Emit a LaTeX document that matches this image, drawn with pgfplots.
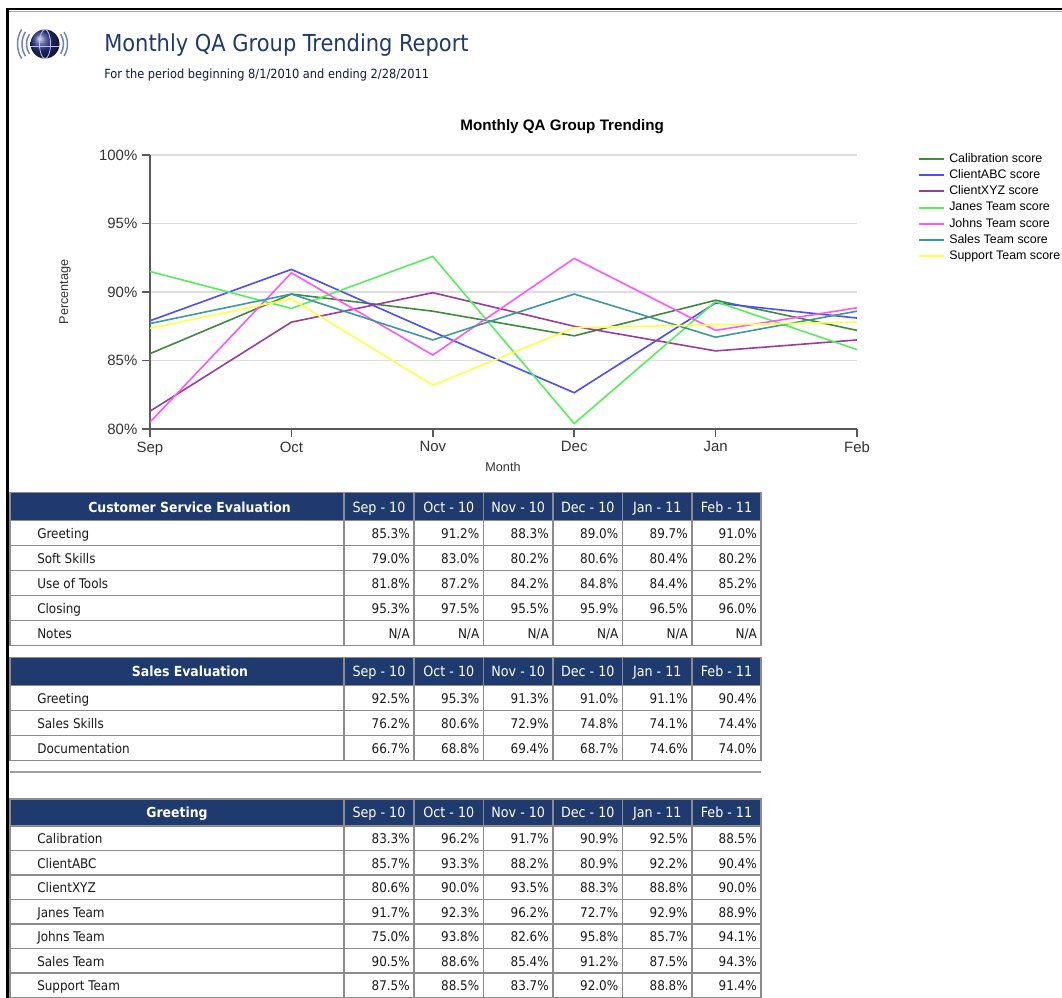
\documentclass[border=0pt]{standalone}
\usepackage{pgfplots}
\usepackage{pgfplotstable}
\pgfplotsset{compat=1.18}
\usepackage{fontspec}
\setmainfont{Liberation Sans}
\newfontfamily\arial{Liberation Sans}
\newfontfamily\tahoma{DejaVu Sans Condensed}

\definecolor{hdr}{HTML}{1F3A6F}
\definecolor{titleblue}{HTML}{1F3A6F}
\definecolor{cellgray}{HTML}{8C8C8C}
\definecolor{axisgray}{HTML}{5A5A5A}
\definecolor{gridgray}{HTML}{DDDDDD}
\definecolor{ticklab}{HTML}{333333}
\definecolor{txt}{HTML}{1A1A1A}
\definecolor{cCal}{HTML}{3C8C3C}
\definecolor{cABC}{HTML}{4D4DFF}
\definecolor{cXYZ}{HTML}{9A3D9A}
\definecolor{cJanes}{HTML}{55F055}
\definecolor{cJohns}{HTML}{FF55FF}
\definecolor{cSales}{HTML}{3C9A9A}
\definecolor{cSupport}{HTML}{FFFF44}
\definecolor{logoblue}{HTML}{27337F}
\definecolor{logoarc}{HTML}{6F82B8}

\pgfplotstableread{
x Cal ABC XYZ Janes Johns Sales Support
0 85.5 87.9 81.3 91.5 80.5 87.7 87.35
1 89.85 91.65 87.8 88.8 91.4 89.85 89.5
2 88.6 87.1 89.95 92.6 85.4 86.5 83.2
3 86.8 82.65 87.5 80.4 92.45 89.85 87.4
4 89.4 89.2 85.7 89.3 87.2 86.7 87.6
5 87.2 88.1 86.5 85.8 88.85 88.6 87.8
}\chartdata

\tikzset{
  cell/.style={draw=cellgray, line width=0.9pt},
  tabfont/.style={font=\tahoma\fontsize{10}{12}\selectfont, text=txt, inner sep=0pt, text height=7pt, text depth=2pt},
  tabhead/.style={font=\tahoma\fontsize{10.6}{12}\selectfont, text=white, inner sep=0pt, text height=7pt, text depth=2pt},
  tabheadb/.style={font=\tahoma\bfseries\fontsize{10.4}{12}\selectfont, text=white, inner sep=0pt, text height=7pt, text depth=2pt},
}

\newcommand\thead[4]{%
  \fill[hdr] (10,#1) rectangle (761,#2);
  \draw[cell] (10,#1) rectangle (761,#2);
  \foreach \xx in {344,414,483.5,553,622.5,692} \draw[cell] (\xx,#1)--(\xx,#2);
  \node[tabheadb] at (#4,{(#1+#2)/2+2}) {#3};
  \foreach \m [count=\i] in {Sep - 10,Oct - 10,Nov - 10,Dec - 10,Jan - 11,Feb - 11} {
    \pgfmathsetmacro\xc{{379,448.75,518.25,587.75,657.25,726.5}[\i-1]}
    \node[tabhead] at (\xc,{(#1+#2)/2+2}) {\m};
  }
}
\newcommand\trow[4]{%
  \draw[cell] (10,#1) rectangle (761,#2);
  \foreach \xx in {344,414,483.5,553,622.5,692} \draw[cell] (\xx,#1)--(\xx,#2);
  \node[tabfont, anchor=west] at (37,{(#1+#2)/2+2}) {#3};
  \foreach \v [count=\i] in {#4} {
    \pgfmathsetmacro\xr{{414,483.5,553,622.5,692,761}[\i-1]-4}
    \node[tabfont, anchor=east] at (\xr,{(#1+#2)/2+2}) {\v};
  }
}

\begin{document}
\begin{tikzpicture}[x=0.75pt,y=-0.75pt]
\useasboundingbox (0,0) rectangle (1062,997);
\clip (0,0) rectangle (1062,997);
\fill[white] (0,0) rectangle (1062,997);

% frame
\draw[black, line width=2.25pt] (7.5,9) -- (7.5,1000);
\draw[black, line width=1.6pt] (6,9) -- (1070,9);
\draw[gray!70, line width=0.8pt] (9,11.5) -- (1070,11.5);

% logo
\shade[ball color=logoblue] (45,44) circle (14.5);
\draw[white!75!blue, line width=0.6pt] (45,44) ellipse (5.5 and 14.5);
\draw[white!75!blue, line width=0.6pt] (30.5,46) -- (59.5,46);
\foreach \r in {18.5,23,27.5} \draw[logoarc, line width=1.1pt] ({45+\r*cos(148)},{44+\r*sin(148)}) arc[start angle=148, end angle=212, radius=\r];
\foreach \r in {18.5,22.5} \draw[logoarc, line width=1.1pt] ({45+\r*cos(-32)},{44+\r*sin(-32)}) arc[start angle=-32, end angle=32, radius=\r];

% header
\node[anchor=base west, inner sep=0pt, font=\tahoma\fontsize{17.5}{20}\selectfont, text=titleblue] at (104,51) {Monthly QA Group Trending Report};
\node[anchor=base west, inner sep=0pt, font=\tahoma\fontsize{9.5}{11}\selectfont, text=titleblue!50!black] at (104,78.5) {For the period beginning 8/1/2010 and ending 2/28/2011};

% chart
\coordinate (O) at (150,429);
\begin{axis}[
  at={(O)}, anchor=south west, scale only axis,
  width=530.25pt, height=205.5pt,
  xmin=0, xmax=5, ymin=80, ymax=100,
  axis x line*=bottom, axis y line*=left,
  axis line style={draw=axisgray, line width=1.5pt},
  xtick={0,...,5}, xticklabels={Sep,Oct,Nov,Dec,Jan,Feb},
  ytick={80,85,90,95,100},
  yticklabel={\pgfmathprintnumber{\tick}\%},
  /pgf/number format/assume math mode=true,
  ticklabel style={font=\arial\fontsize{11.2}{13}\selectfont, text=ticklab},
  tick align=outside, major tick length=6pt,
  tick style={draw=axisgray, line width=1.2pt},
  ymajorgrids, grid style={draw=gridgray, line width=0.8pt},
  xlabel={Month}, ylabel={Percentage},
  label style={font=\arial\fontsize{9.5}{11}\selectfont, text=ticklab},
  xlabel style={at={(0.4993,-0.1387)}, anchor=center},
  ylabel style={at={(-0.1202,0.5)}, anchor=center},
  title={Monthly QA Group Trending},
  title style={font=\arial\bfseries\fontsize{11.4}{13}\selectfont, at={(0.583,1.073)}, anchor=center},
  no marks,
  legend style={draw=none, fill=none, at={(1.0863,1.0094)}, anchor=north west,
    font=\arial\fontsize{9.3}{11}\selectfont, inner sep=0pt, row sep=3.2pt,
    nodes={inner sep=0pt, text height=7pt, text depth=2pt},
    /tikz/every odd column/.append style={column sep=3pt}},
  legend cell align=left,
  legend image code/.code={\draw[#1, line width=1.5pt] (0pt,0pt) -- (18.75pt,0pt);},
  every axis plot/.append style={line width=1.2pt},
]
\addplot[cCal] table[x=x,y=Cal]{\chartdata}; \addlegendentry{Calibration score}
\addplot[cABC] table[x=x,y=ABC]{\chartdata}; \addlegendentry{ClientABC score}
\addplot[cXYZ] table[x=x,y=XYZ]{\chartdata}; \addlegendentry{ClientXYZ score}
\addplot[cJanes] table[x=x,y=Janes]{\chartdata}; \addlegendentry{Janes Team score}
\addplot[cJohns] table[x=x,y=Johns]{\chartdata}; \addlegendentry{Johns Team score}
\addplot[cSales] table[x=x,y=Sales]{\chartdata}; \addlegendentry{Sales Team score}
\addplot[cSupport] table[x=x,y=Support]{\chartdata}; \addlegendentry{Support Team score}
\end{axis}

% table 1
\thead{492.7}{520.7}{Customer Service Evaluation}{189.5}
\trow{520.7}{545.5}{Greeting}{85.3\%,91.2\%,88.3\%,89.0\%,89.7\%,91.0\%}
\trow{545.5}{570.4}{Soft Skills}{79.0\%,83.0\%,80.2\%,80.6\%,80.4\%,80.2\%}
\trow{570.4}{595.5}{Use of Tools}{81.8\%,87.2\%,84.2\%,84.8\%,84.4\%,85.2\%}
\trow{595.5}{620.7}{Closing}{95.3\%,97.5\%,95.5\%,95.9\%,96.5\%,96.0\%}
\trow{620.7}{645.3}{Notes}{N/A,N/A,N/A,N/A,N/A,N/A}

% table 2
\thead{657.3}{685.7}{Sales Evaluation}{190}
\trow{685.7}{710.7}{Greeting}{92.5\%,95.3\%,91.3\%,91.0\%,91.1\%,90.4\%}
\trow{710.7}{735.7}{Sales Skills}{76.2\%,80.6\%,72.9\%,74.8\%,74.1\%,74.4\%}
\trow{735.7}{760.7}{Documentation}{66.7\%,68.8\%,69.4\%,68.7\%,74.6\%,74.0\%}

\draw[gray!75, line width=1.5pt] (10,772.3) -- (761,772.3);

% table 3
\thead{799}{826}{Greeting}{177}
\trow{826}{850.5}{Calibration}{83.3\%,96.2\%,91.7\%,90.9\%,92.5\%,88.5\%}
\trow{850.5}{875}{ClientABC}{85.7\%,93.3\%,88.2\%,80.9\%,92.2\%,90.4\%}
\trow{875}{899.5}{ClientXYZ}{80.6\%,90.0\%,93.5\%,88.3\%,88.8\%,90.0\%}
\trow{899.5}{924}{Janes Team}{91.7\%,92.3\%,96.2\%,72.7\%,92.9\%,88.9\%}
\trow{924}{948.5}{Johns Team}{75.0\%,93.8\%,82.6\%,95.8\%,85.7\%,94.1\%}
\trow{948.5}{973}{Sales Team}{90.5\%,88.6\%,85.4\%,91.2\%,87.5\%,94.3\%}
\trow{973}{997.5}{Support Team}{87.5\%,88.5\%,83.7\%,92.0\%,88.8\%,91.4\%}
\end{tikzpicture}
\end{document}
